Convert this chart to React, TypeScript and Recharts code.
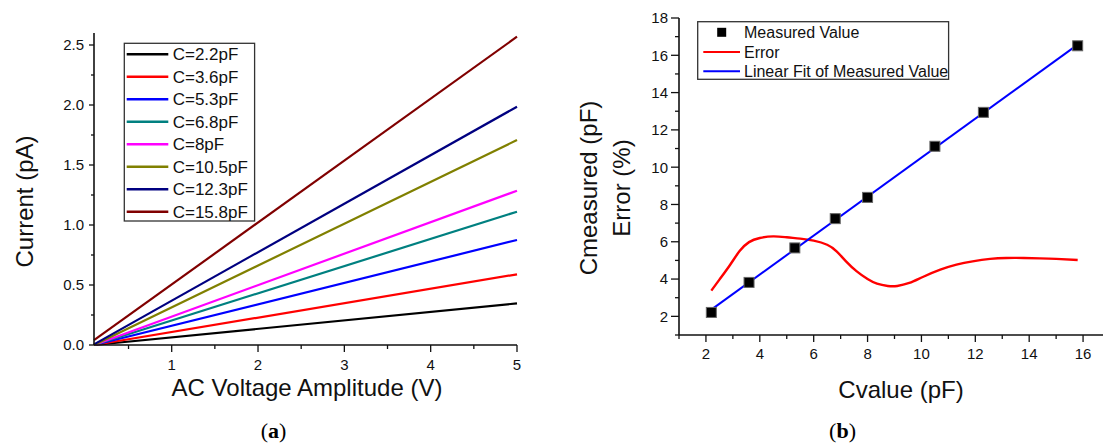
import React from "react";
import { LineChart, Line, XAxis, YAxis, ComposedChart, Scatter } from "recharts";

// panel (a): current vs AC voltage amplitude
const voltage = [0.1, 5];
const current22 = [0, 0.347];
const current36 = [0, 0.589];
const current53 = [0, 0.875];
const current68 = [0, 1.111];
const current80 = [0, 1.286];
const current105 = [0, 1.708];
const current123 = [0.005, 1.986];
const current158 = [0.04, 2.569];
const capNames = ["C=2.2pF", "C=3.6pF", "C=5.3pF", "C=6.8pF", "C=8pF", "C=10.5pF", "C=12.3pF", "C=15.8pF"];
const capColors = ["#000000", "#ff0000", "#0000ff", "#008080", "#ff00ff", "#808000", "#000080", "#800000"];
const xMajorA = [1, 2, 3, 4, 5];
const xMinorA = [0.5, 1.5, 2.5, 3.5, 4.5];
const yMajorA = [0, 0.5, 1, 1.5, 2, 2.5];
const yMinorA = [0.25, 0.75, 1.25, 1.75, 2.25];

// panel (b): measured capacitance and its linear fit
const capValue = [2.2, 3.6, 5.3, 6.8, 8, 10.5, 12.3, 15.8];
const measured = [2.21, 3.82, 5.67, 7.24, 8.38, 11.12, 12.94, 16.51];
const linearFit = [2.36, null, null, null, null, null, null, 16.57];
// error curve
const errorX = [2.2, 2.5, 2.9, 3.25, 3.6, 4.0, 4.5, 5.0, 5.5, 6.0, 6.5, 6.85, 7.2, 7.6, 8.0, 8.35, 8.75, 9.1, 9.55, 10.05, 10.7, 11.3, 11.9, 12.55, 13.15, 13.8, 14.4, 15.0, 15.8];
const errorPct = [3.38, 3.97, 4.77, 5.5, 5.98, 6.2, 6.29, 6.24, 6.17, 6.06, 5.84, 5.49, 4.95, 4.41, 4.0, 3.75, 3.63, 3.63, 3.79, 4.11, 4.5, 4.77, 4.95, 5.08, 5.13, 5.13, 5.11, 5.08, 5.02];
const xMajorB = [2, 4, 6, 8, 10, 12, 14, 16];
const xMinorB = [1, 3, 5, 7, 9, 11, 13, 15, 17];
const yMajorB = [2, 4, 6, 8, 10, 12, 14, 16, 18];
const yMinorB = [1, 3, 5, 7, 9, 11, 13, 15, 17];

const seriesA = [current22, current36, current53, current68, current80, current105, current123, current158];
const rowsA = voltage.map((v, i) => {
  const row: Record<string, number> = { v };
  seriesA.forEach((s, k) => (row["s" + k] = s[i]));
  return row;
});
const rowsB = capValue.map((c, i) => ({ c, m: measured[i], f: linearFit[i] }));
const rowsErr = errorX.map((c, i) => ({ c, e: errorPct[i] }));

const FONT = '"Liberation Sans", Arial, sans-serif';
const INK = "#111";
const sorted = (a: number[], b: number[]) => [...a, ...b].sort((p, q) => p - q);
const isIn = (v: number, list: number[]) => list.some((m) => Math.abs(m - v) < 1e-6);

function leftTick(majors: number[], fmt: (v: number) => string, majorLen: number, minorLen: number, gap: number) {
  return (p: any) => {
    const v = p.payload.value;
    const major = isIn(v, majors);
    return (
      <g>
        <line x1={p.x} x2={p.x - (major ? majorLen : minorLen)} y1={p.y} y2={p.y} stroke={INK} strokeWidth={1.3} />
        {major && (
          <text x={p.x - majorLen - gap} y={p.y} dy="0.36em" textAnchor="end" fontSize={15} fill={INK}>
            {fmt(v)}
          </text>
        )}
      </g>
    );
  };
}

function bottomTick(majors: number[], majorLen: number, minorLen: number, baseline: number) {
  return (p: any) => {
    const v = p.payload.value;
    const major = isIn(v, majors);
    return (
      <g>
        <line x1={p.x} x2={p.x} y1={p.y} y2={p.y + (major ? majorLen : minorLen)} stroke={INK} strokeWidth={1.3} />
        {major && (
          <text x={p.x} y={p.y + baseline} textAnchor="middle" fontSize={15} fill={INK}>
            {String(v)}
          </text>
        )}
      </g>
    );
  };
}

const axisLine = { stroke: INK, strokeWidth: 1.6 };

export default function App() {
  return (
    <div
      style={{
        position: "absolute",
        left: 0,
        top: 0,
        width: 1103,
        height: 446,
        overflow: "hidden",
        background: "#fff",
        fontFamily: FONT,
      }}
    >
      <div style={{ position: "absolute", left: 0, top: 0 }}>
        <LineChart width={540} height={446} data={rowsA} margin={{ top: 33, right: 23, bottom: 51, left: 0 }}>
          <XAxis
            type="number"
            dataKey="v"
            domain={[0.1, 5]}
            ticks={sorted(xMajorA, xMinorA)}
            interval={0}
            height={50}
            tickSize={0}
            tickMargin={0}
            tickLine={false}
            axisLine={axisLine}
            tick={bottomTick(xMajorA, 7, 4, 25)}
          />
          <YAxis
            type="number"
            domain={[0, 2.6]}
            ticks={sorted(yMajorA, yMinorA)}
            interval={0}
            width={94}
            tickSize={0}
            tickMargin={0}
            tickLine={false}
            axisLine={axisLine}
            tick={leftTick(yMajorA, (v) => v.toFixed(1), 5, 3, 5)}
          />
          {seriesA.map((_, k) => (
            <Line
              key={k}
              type="linear"
              dataKey={"s" + k}
              stroke={capColors[k]}
              strokeWidth={2.2}
              dot={false}
              isAnimationActive={false}
            />
          ))}
        </LineChart>
      </div>

      <div style={{ position: "absolute", left: 560, top: 0 }}>
        <ComposedChart width={560} height={446} data={rowsB} margin={{ top: 18, right: 10, bottom: 51, left: 0 }}>
          <XAxis
            type="number"
            dataKey="c"
            domain={[1, 17]}
            ticks={sorted(xMajorB, xMinorB)}
            interval={0}
            height={60}
            tickSize={0}
            tickMargin={0}
            tickLine={false}
            axisLine={axisLine}
            tick={bottomTick(xMajorB, 7, 4, 24)}
          />
          <YAxis
            type="number"
            domain={[1, 18]}
            ticks={sorted(yMajorB, yMinorB)}
            interval={0}
            width={119}
            tickSize={0}
            tickMargin={0}
            tickLine={false}
            axisLine={axisLine}
            tick={leftTick(yMajorB, (v) => String(v), 8, 4, 3)}
          />
          <Scatter
            dataKey="m"
            fill="#000"
            isAnimationActive={false}
            shape={(p: any) => (
              <rect x={p.cx - 5} y={p.cy - 5} width={10} height={10} fill="#000" stroke="#666" strokeWidth={1} />
            )}
          />
          <Line
            data={rowsErr}
            type="natural"
            dataKey="e"
            stroke="#ff0000"
            strokeWidth={2.4}
            dot={false}
            isAnimationActive={false}
          />
          <Line
            type="linear"
            dataKey="f"
            stroke="#0000ff"
            strokeWidth={2}
            dot={false}
            connectNulls
            isAnimationActive={false}
          />
        </ComposedChart>
      </div>

      <svg
        width={1103}
        height={446}
        style={{ position: "absolute", left: 0, top: 0, pointerEvents: "none", fontFamily: FONT }}
      >
        {/* panel (a) titles */}
        <text x={24} y={201.5} transform="rotate(-90 24 201.5)" textAnchor="middle" dominantBaseline="central" fontSize={24} fill={INK}>
          Current (pA)
        </text>
        <text x={307} y={396} textAnchor="middle" fontSize={24} fill={INK}>
          AC Voltage Amplitude (V)
        </text>

        {/* panel (a) legend */}
        <rect x={124.3} y={43.3} width={130.3} height={177.7} fill="#fff" stroke="#333" strokeWidth={1.3} />
        {capNames.map((name, i) => {
          const cy = 54.3 + 22.5 * i;
          return (
            <g key={name}>
              <line x1={126.7} x2={168.3} y1={cy} y2={cy} stroke={capColors[i]} strokeWidth={2.4} />
              <text x={172.7} y={cy} dy="0.36em" fontSize={17} fill={INK}>
                {name}
              </text>
            </g>
          );
        })}

        {/* panel (b) titles */}
        <text x={588} y={188} transform="rotate(-90 588 188)" textAnchor="middle" dominantBaseline="central" fontSize={24} fill={INK}>
          Cmeasured (pF)
        </text>
        <text x={621} y={188} transform="rotate(-90 621 188)" textAnchor="middle" dominantBaseline="central" fontSize={24} fill={INK}>
          Error (%)
        </text>
        <text x={901} y={398} textAnchor="middle" fontSize={24} fill={INK}>
          Cvalue (pF)
        </text>

        {/* panel (b) legend */}
        <rect x={697.7} y={21.7} width={250.9} height={57.6} fill="#fff" stroke="#333" strokeWidth={1.3} />
        <rect x={717.2} y={27.8} width={9} height={9} fill="#000" />
        <text x={744} y={32.3} dy="0.36em" fontSize={16} fill={INK}>
          Measured Value
        </text>
        <line x1={703.3} x2={740} y1={52} y2={52} stroke="#ff0000" strokeWidth={2.2} />
        <text x={744} y={52} dy="0.36em" fontSize={16} fill={INK}>
          Error
        </text>
        <line x1={703.3} x2={740} y1={71.3} y2={71.3} stroke="#0000ff" strokeWidth={2} />
        <text x={744} y={71.3} dy="0.36em" fontSize={16} fill={INK}>
          Linear Fit of Measured Value
        </text>

        {/* captions */}
        <text x={273.5} y={438} textAnchor="middle" fontSize={22} fill="#000" style={{ fontFamily: '"Liberation Serif", "DejaVu Serif", serif' }}>
          (<tspan fontWeight="bold">a</tspan>)
        </text>
        <text x={842.5} y={438} textAnchor="middle" fontSize={22} fill="#000" style={{ fontFamily: '"Liberation Serif", "DejaVu Serif", serif' }}>
          (<tspan fontWeight="bold">b</tspan>)
        </text>
      </svg>
    </div>
  );
}
